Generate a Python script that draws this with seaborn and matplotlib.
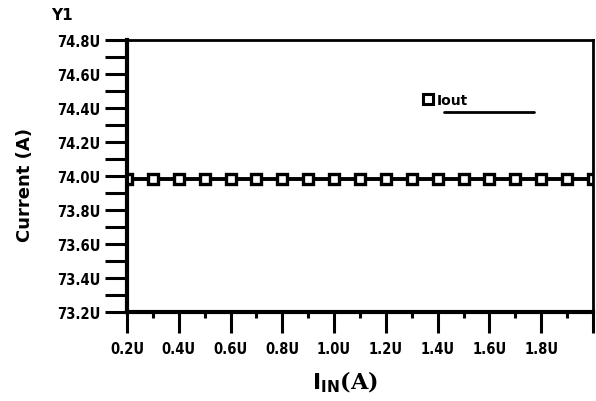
import numpy as np
import matplotlib
matplotlib.use("Agg")
import matplotlib.pyplot as plt
from matplotlib.lines import Line2D
from matplotlib.ticker import MultipleLocator, FuncFormatter
import seaborn as sns
import pandas as pd

# input current (uA) and output current (uA)
iin = [0.2, 0.3, 0.4, 0.5, 0.6, 0.7, 0.8, 0.9, 1.0, 1.1,
       1.2, 1.3, 1.4, 1.5, 1.6, 1.7, 1.8, 1.9, 2.0]
iout = [73.985] * len(iin)

df = pd.DataFrame({"Iin": iin, "Iout": iout})

sns.set_style("white")
plt.rcParams["font.family"] = ["DejaVu Sans"]
plt.rcParams["text.color"] = "black"
plt.rcParams["axes.labelcolor"] = "black"
plt.rcParams["xtick.color"] = "black"
plt.rcParams["ytick.color"] = "black"

fig = plt.figure(figsize=(5.96, 4.02), dpi=100)
ax = fig.add_axes([127 / 596, 1 - 313 / 402, 466 / 596, 272 / 402])

sns.lineplot(data=df, x="Iin", y="Iout", ax=ax, color="black", lw=2.8,
             marker="s", markersize=7, markerfacecolor="white",
             markeredgecolor="black", markeredgewidth=2.4, clip_on=True)

ax.set_xlim(0.2, 2.0)
ax.set_ylim(73.2, 74.8)

ax.xaxis.set_major_locator(MultipleLocator(0.2))
ax.xaxis.set_minor_locator(MultipleLocator(0.1))
ax.yaxis.set_major_locator(MultipleLocator(0.2))
ax.yaxis.set_minor_locator(MultipleLocator(0.1))

def xfmt(v, p):
    if v > 1.85:
        return ""
    return f"{v:.1f}U"

ax.xaxis.set_major_formatter(FuncFormatter(xfmt))
ax.yaxis.set_major_formatter(FuncFormatter(lambda v, p: f"{v:.1f}U"))

ax.tick_params(axis="both", which="both", direction="out", color="black",
               labelcolor="black", labelsize=10.5, width=2.2)
ax.tick_params(axis="y", which="both", length=16, pad=3)
ax.tick_params(axis="x", which="major", length=15, pad=6)
ax.tick_params(axis="x", which="minor", length=4)
for lab in ax.get_xticklabels() + ax.get_yticklabels():
    lab.set_fontweight("bold")
    lab.set_fontstretch("condensed")
ax.yaxis.set_ticks_position("left")
ax.xaxis.set_ticks_position("bottom")

for side in ["left", "bottom"]:
    ax.spines[side].set_linewidth(3)
for side in ["top", "right"]:
    ax.spines[side].set_linewidth(2)
for s in ax.spines.values():
    s.set_color("black")

ax.set_ylabel("Current (A)", fontsize=13, fontweight="bold")
ax.yaxis.set_label_coords(-0.2, 0.47)
ax.set_xlabel(r"$\mathbf{I}_{\mathbf{IN}}$(A)", fontsize=16, fontweight="bold",
              family="DejaVu Serif")
ax.xaxis.set_label_coords((345 - 127) / 466, -0.21)
fig.text(62 / 596, 1 - 16 / 402, "Y1", fontsize=11, fontweight="bold",
         ha="center", va="center")

handle = Line2D([], [], ls="none", marker="s", markersize=6.5,
                markerfacecolor="white", markeredgecolor="black",
                markeredgewidth=2.2)
ax.legend([handle], ["Iout"], loc="center left", bbox_to_anchor=(0.61, 0.78),
          frameon=False, handlelength=0.6, handletextpad=0.3,
          prop={"weight": "bold", "size": 10})
ax.plot([0.681, 0.873], [0.735, 0.735], transform=ax.transAxes,
        color="black", lw=2)

fig.savefig("out.png", dpi=100)
